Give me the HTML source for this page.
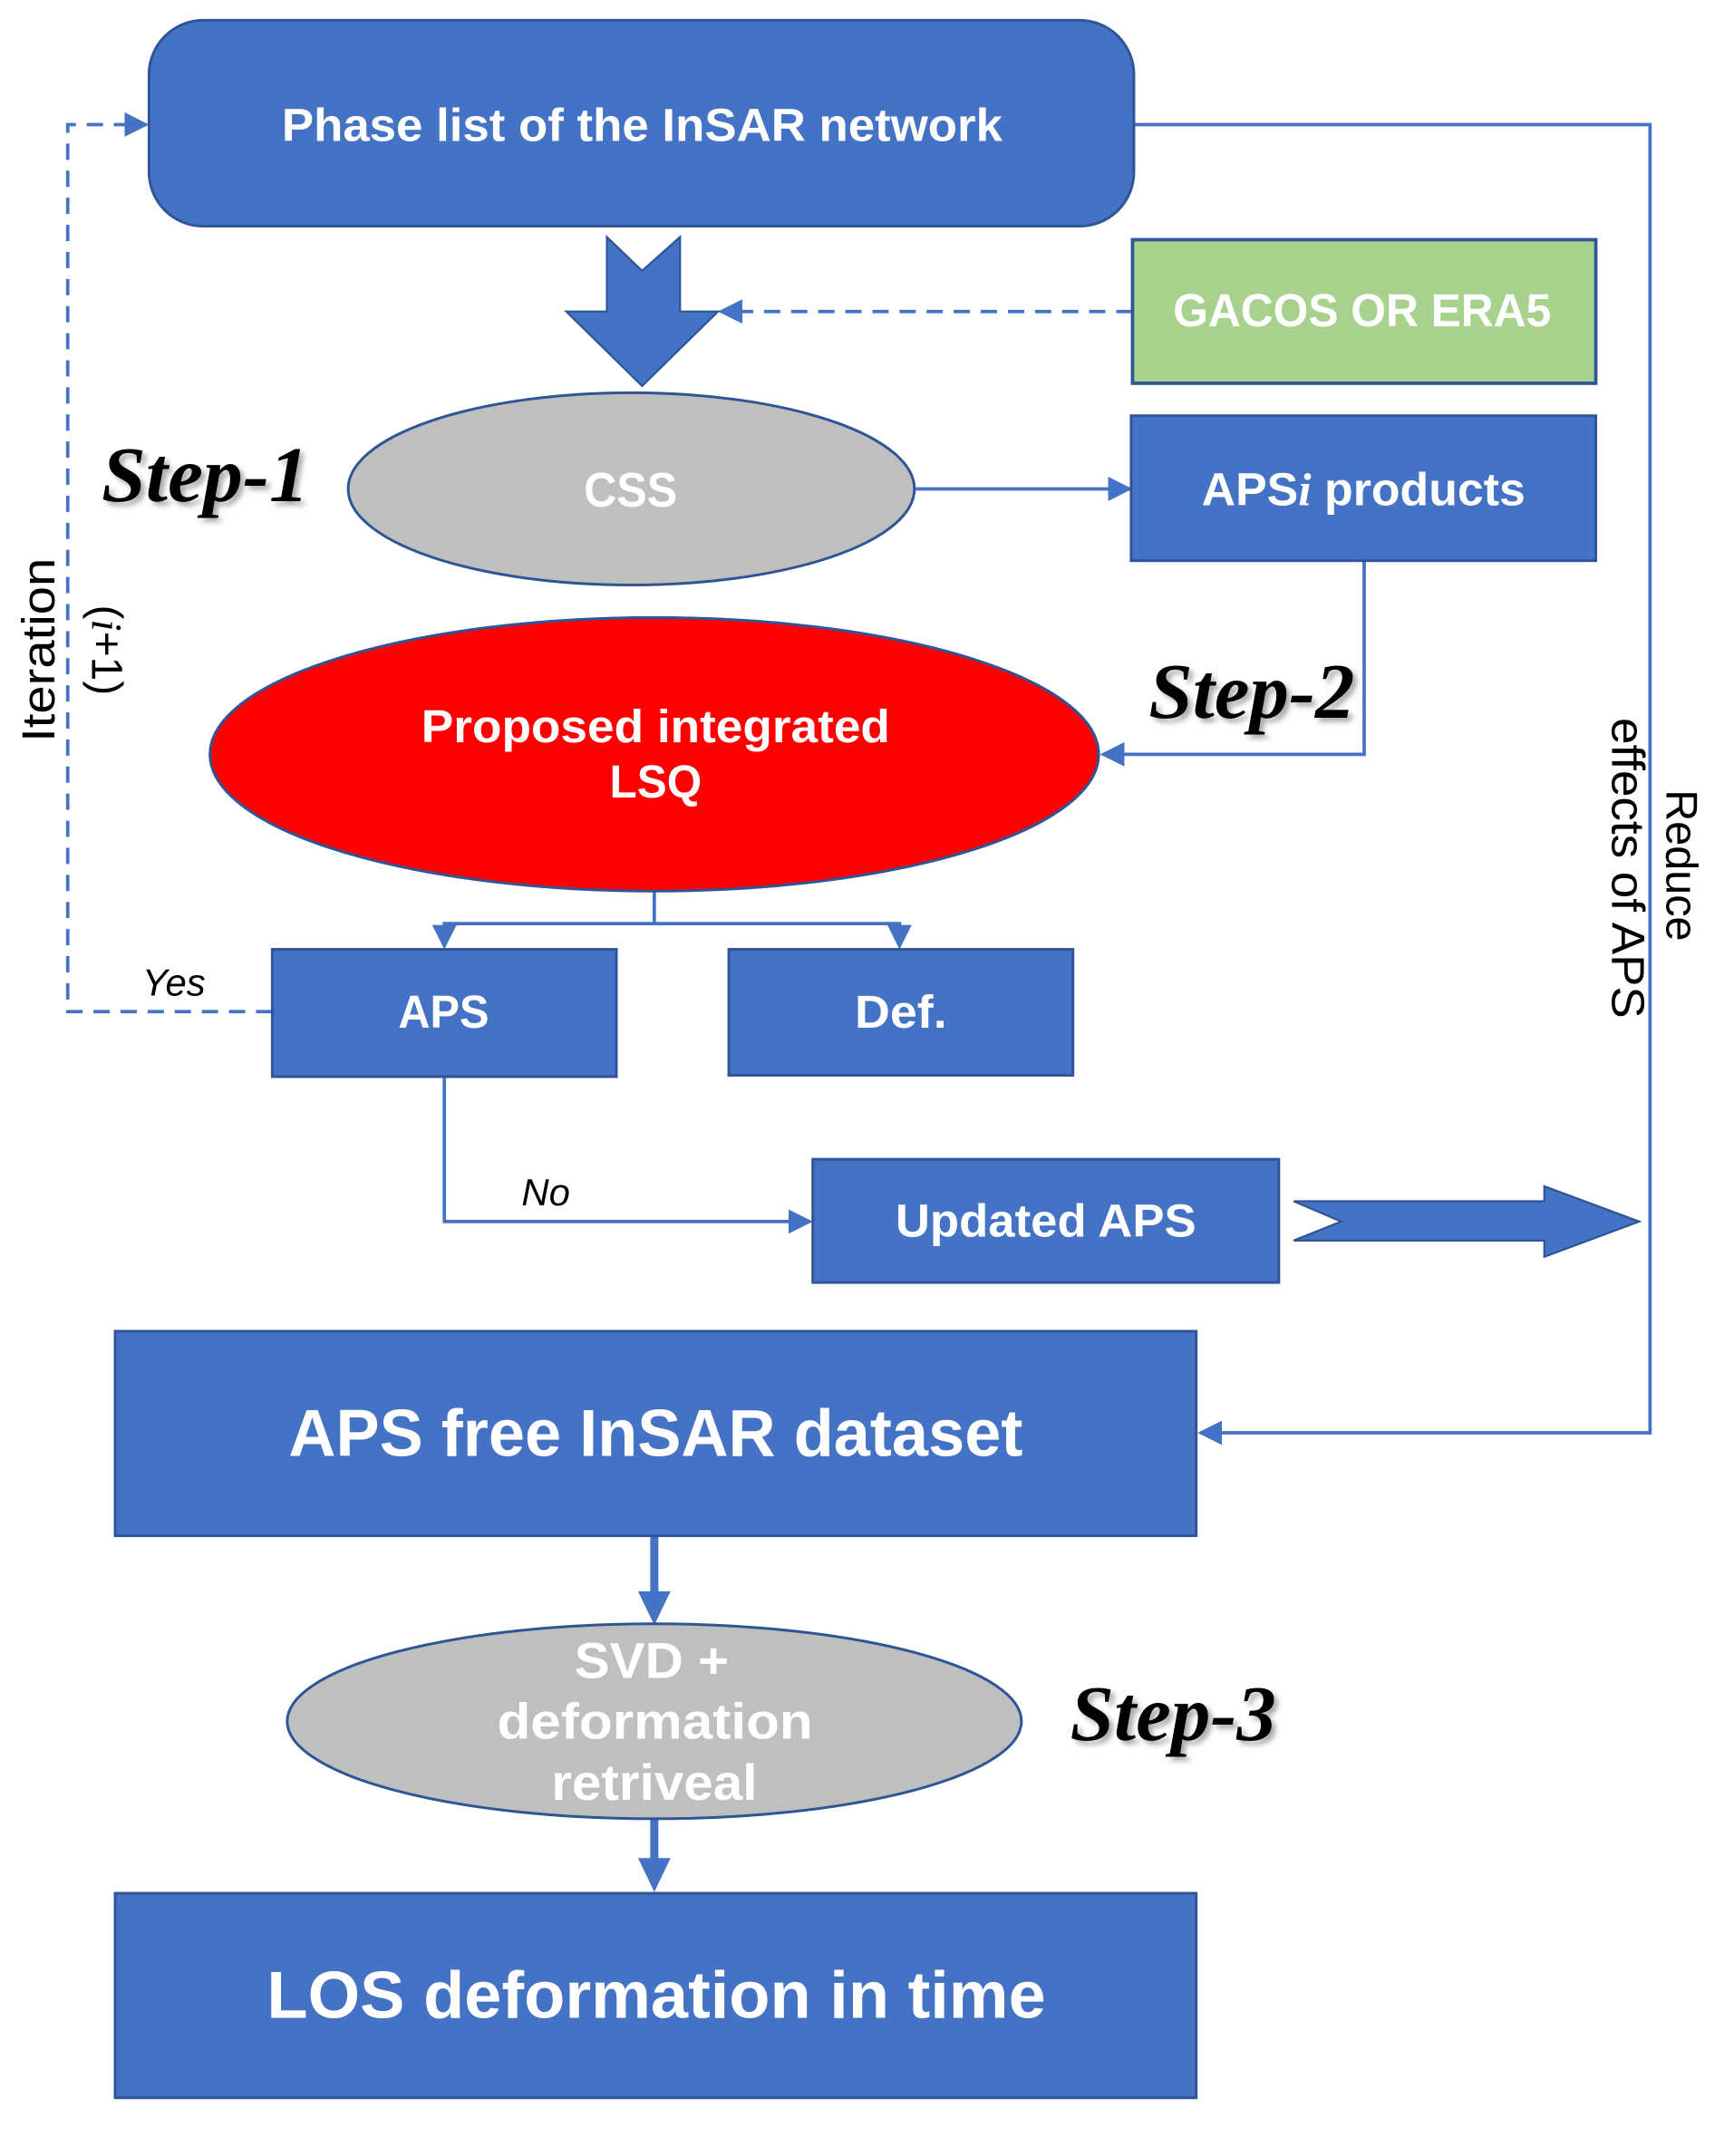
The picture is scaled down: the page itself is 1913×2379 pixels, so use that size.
<!DOCTYPE html>
<html><head><meta charset="utf-8"><style>html,body{margin:0;padding:0;background:#fff}svg{display:block}</style></head>
<body>
<svg width="1913" height="2379" viewBox="0 0 1280 1592" preserveAspectRatio="none" xmlns="http://www.w3.org/2000/svg" font-family="Liberation Sans, sans-serif">
<defs>
<marker id="b" markerWidth="18" markerHeight="18" refX="16" refY="9" orient="auto" markerUnits="userSpaceOnUse" viewBox="0 0 18 18"><path d="M0,0 L18,9 L0,18 z" fill="#4472C4"/></marker>
<filter id="s"><feDropShadow dx="3" dy="3" stdDeviation="2" flood-color="#888" flood-opacity="0.7"/></filter>
</defs>
<g stroke="#4472C4" stroke-width="2.5" fill="none">
<polyline points="837,92 1218,92 1218,1058 886,1058" marker-end="url(#b)"/>
<line x1="836" y1="230" x2="532" y2="230" stroke-dasharray="12,8" marker-end="url(#b)"/>
<line x1="676" y1="361" x2="834" y2="361" marker-end="url(#b)"/>
<polyline points="1007,414 1007,557 814,557" marker-end="url(#b)"/>
<polyline points="483,658 483,682 328,682 328,699" marker-end="url(#b)"/>
<polyline points="483,682 664,682 664,699" marker-end="url(#b)"/>
<polyline points="201,747 50,747 50,92 108,92" stroke-dasharray="12,8" marker-end="url(#b)"/>
<polyline points="328,795 328,902 598,902" marker-end="url(#b)"/>
</g>
<g stroke="#4472C4" stroke-width="6"><line x1="483" y1="1134" x2="483" y2="1180"/><line x1="483" y1="1343" x2="483" y2="1378"/></g>
<path d="M471,1175 L495,1175 L483,1200 z" fill="#4472C4"/>
<path d="M471,1372 L495,1372 L483,1397 z" fill="#4472C4"/>
<rect x="110" y="15" width="727" height="152" rx="40" fill="#4472C4" stroke="#2F5597" stroke-width="2"/>
<text x="208" y="104" textLength="532" lengthAdjust="spacingAndGlyphs" fill="#fff" font-weight="bold" font-size="34">Phase list of the InSAR network</text>
<path d="M448,175 L474,200 L502,175 L502,230 L530,230 L474,285 L418,230 L448,230 z" fill="#4472C4" stroke="#2F5597" stroke-width="1.5"/>
<rect x="836" y="177" width="342" height="106" fill="#A9D18E" stroke="#2F5597" stroke-width="2.5"/>
<text x="866" y="241" textLength="279" lengthAdjust="spacingAndGlyphs" fill="#fff" font-weight="bold" font-size="34">GACOS OR ERA5</text>
<ellipse cx="466" cy="361" rx="209" ry="71" fill="#BFBFBF" stroke="#2F5597" stroke-width="2"/>
<text x="431" y="374" textLength="69" lengthAdjust="spacingAndGlyphs" fill="#fff" font-weight="bold" font-size="36">CSS</text>
<rect x="835" y="307" width="343" height="107" fill="#4472C4" stroke="#2F5597" stroke-width="2"/>
<text x="887" y="373" textLength="239" lengthAdjust="spacingAndGlyphs" fill="#fff" font-weight="bold" font-size="34">APS<tspan font-family="Liberation Serif, serif" font-style="italic">i</tspan> products</text>
<ellipse cx="483" cy="557" rx="328" ry="101" fill="#FF0000" stroke="#2F5597" stroke-width="2"/>
<text x="311" y="548" textLength="346" lengthAdjust="spacingAndGlyphs" fill="#fff" font-weight="bold" font-size="34">Proposed integrated</text>
<text x="450" y="589" textLength="68" lengthAdjust="spacingAndGlyphs" fill="#fff" font-weight="bold" font-size="34">LSQ</text>
<rect x="201" y="701" width="254" height="94" fill="#4472C4" stroke="#2F5597" stroke-width="2"/>
<text x="294" y="759" textLength="67" lengthAdjust="spacingAndGlyphs" fill="#fff" font-weight="bold" font-size="34">APS</text>
<rect x="538" y="701" width="254" height="93" fill="#4472C4" stroke="#2F5597" stroke-width="2"/>
<text x="631" y="759" textLength="68" lengthAdjust="spacingAndGlyphs" fill="#fff" font-weight="bold" font-size="34">Def.</text>
<rect x="600" y="856" width="344" height="91" fill="#4472C4" stroke="#2F5597" stroke-width="2"/>
<text x="661" y="913" textLength="222" lengthAdjust="spacingAndGlyphs" fill="#fff" font-weight="bold" font-size="34">Updated APS</text>
<path d="M955,887 L1140,887 L1140,876 L1210,902 L1140,928 L1140,916 L955,916 L990,902 z" fill="#4472C4" stroke="#2F5597" stroke-width="1.5"/>
<rect x="85" y="983" width="798" height="151" fill="#4472C4" stroke="#2F5597" stroke-width="2"/>
<text x="213" y="1075" textLength="542" lengthAdjust="spacingAndGlyphs" fill="#fff" font-weight="bold" font-size="49">APS free InSAR dataset</text>
<ellipse cx="483" cy="1271" rx="271" ry="72" fill="#BFBFBF" stroke="#2F5597" stroke-width="2"/>
<text x="424" y="1239" textLength="114" lengthAdjust="spacingAndGlyphs" fill="#fff" font-weight="bold" font-size="37">SVD +</text>
<text x="367" y="1284" textLength="233" lengthAdjust="spacingAndGlyphs" fill="#fff" font-weight="bold" font-size="37">deformation</text>
<text x="407" y="1329" textLength="152" lengthAdjust="spacingAndGlyphs" fill="#fff" font-weight="bold" font-size="37">retriveal</text>
<rect x="85" y="1398" width="798" height="151" fill="#4472C4" stroke="#2F5597" stroke-width="2"/>
<text x="197" y="1490" textLength="575" lengthAdjust="spacingAndGlyphs" fill="#fff" font-weight="bold" font-size="49">LOS deformation in time</text>
<g font-family="Liberation Serif, serif" font-style="italic" font-weight="bold" font-size="58" fill="#000" filter="url(#s)">
<text x="75" y="370" textLength="153" lengthAdjust="spacingAndGlyphs">Step-1</text>
<text x="848" y="530" textLength="152" lengthAdjust="spacingAndGlyphs">Step-2</text>
<text x="790" y="1285" textLength="152" lengthAdjust="spacingAndGlyphs">Step-3</text>
</g>
<text x="105" y="735" font-style="italic" font-size="28">Yes</text>
<text x="385" y="890" font-style="italic" font-size="28">No</text>
<text transform="translate(40,480) rotate(-90)" text-anchor="middle" font-size="34" textLength="136" lengthAdjust="spacingAndGlyphs">Iteration</text>
<text transform="translate(68,480) rotate(90)" text-anchor="middle" font-size="32">(<tspan font-family="Liberation Serif, serif" font-style="italic">i</tspan>+1)</text>
<text transform="translate(1230,639) rotate(90)" text-anchor="middle" font-size="33" textLength="112" lengthAdjust="spacingAndGlyphs">Reduce</text>
<text transform="translate(1190,641) rotate(90)" text-anchor="middle" font-size="34" textLength="222" lengthAdjust="spacingAndGlyphs">effects of APS</text>
</svg>
</body></html>
